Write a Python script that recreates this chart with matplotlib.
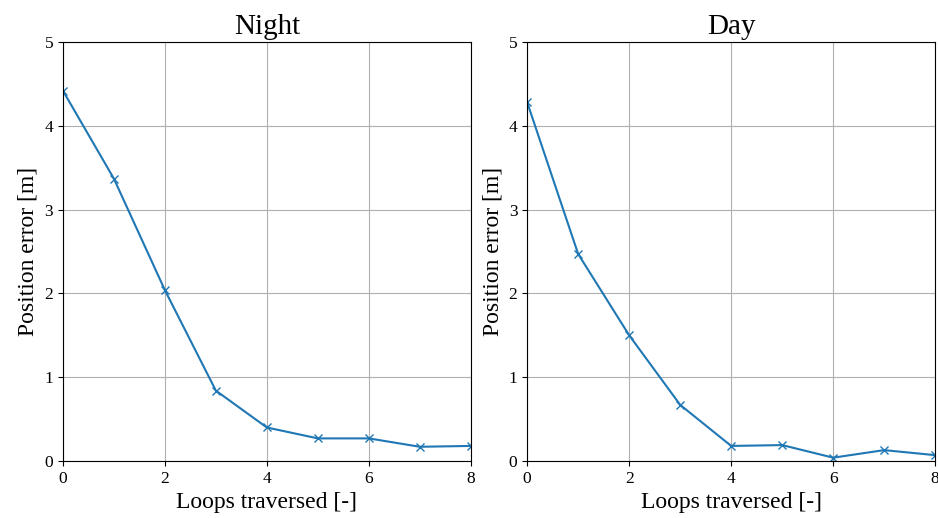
import numpy as np
import matplotlib.pyplot as plt

plt.rcParams['font.family'] = ['Liberation Serif', 'DejaVu Serif']

loops = np.arange(0, 9)
night_err = [4.42, 3.37, 2.04, 0.84, 0.40, 0.27, 0.27, 0.17, 0.18]
day_err = [4.28, 2.47, 1.50, 0.67, 0.18, 0.19, 0.04, 0.13, 0.07]

titles = ['Night', 'Day']
series = [night_err, day_err]

fig, axes = plt.subplots(1, 2, figsize=(9.38, 5.18), dpi=100)

for ax, title, err in zip(axes, titles, series):
    ax.plot(loops, err, marker='x', color='tab:blue', linewidth=1.5, markersize=6)
    ax.set_title(title, fontsize=21)
    ax.set_xlabel('Loops traversed [-]', fontsize=17)
    ax.set_ylabel('Position error [m]', fontsize=17)
    ax.set_xlim(0, 8)
    ax.set_ylim(0, 5)
    ax.set_xticks([0, 2, 4, 6, 8])
    ax.set_yticks([0, 1, 2, 3, 4, 5])
    ax.tick_params(labelsize=12.5)
    ax.grid(True, color='#b0b0b0', linewidth=0.8)

plt.subplots_adjust(left=0.067, right=0.997, top=0.919, bottom=0.11, wspace=0.138)
fig.savefig('out.png')
